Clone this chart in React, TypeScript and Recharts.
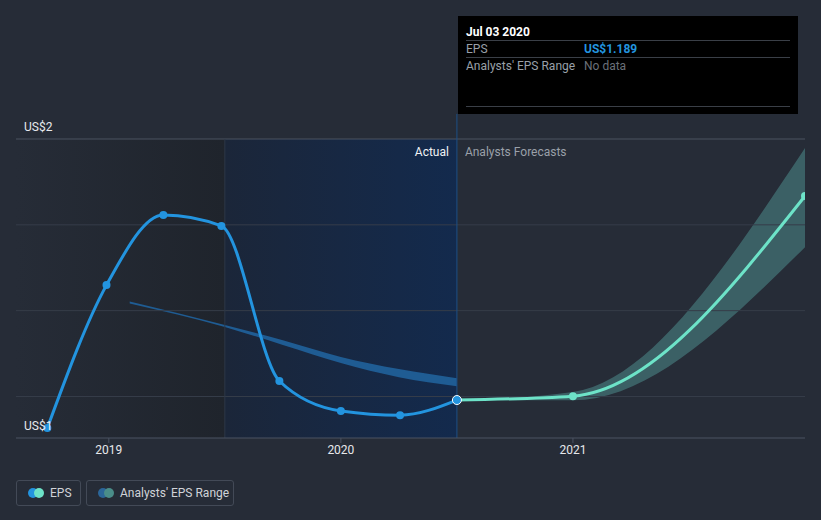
import React from "react";
import {
  ComposedChart,
  Line,
  Area,
  XAxis,
  YAxis,
  ReferenceArea,
  ReferenceLine,
} from "recharts";

// dates are decimal years
const actualDates = [2018.735, 2018.99, 2019.235, 2019.485, 2019.735, 2020.0, 2020.255, 2020.5];
const actualEps = [1.102, 1.546, 1.764, 1.73, 1.248, 1.155, 1.142, 1.189];

const forecastDates = [2020.5, 2021.0, 2022.0];
const forecastEps = [1.189, 1.201, 1.823];
const forecastLow = [1.189, 1.188, 1.664];
const forecastHigh = [1.189, 1.214, 1.972];

const pastRangeDates = [2019.09, 2019.5, 2019.75, 2020.0, 2020.25, 2020.5];
const pastRangeLow = [1.489, 1.416, 1.36, 1.304, 1.26, 1.232];
const pastRangeHigh = [1.495, 1.422, 1.375, 1.323, 1.285, 1.257];

const yearTicks = [2019, 2020, 2021];
const yMin = 1.071;
const yMax = 2.0;
const gridTicks = [yMin, 1.2, 1.4667, 1.7333, yMax];

type Row = {
  t: number;
  eps?: number;
  forecast?: number;
  range?: [number, number];
  pastRange?: [number, number];
};

const rows = new Map<number, Row>();
const row = (t: number) => {
  if (!rows.has(t)) rows.set(t, { t });
  return rows.get(t)!;
};
actualDates.forEach((t, i) => (row(t).eps = actualEps[i]));
forecastDates.forEach((t, i) => {
  row(t).forecast = forecastEps[i];
  row(t).range = [forecastLow[i], forecastHigh[i]];
});
pastRangeDates.forEach((t, i) => (row(t).pastRange = [pastRangeLow[i], pastRangeHigh[i]]));
const data = Array.from(rows.values()).sort((a, b) => a.t - b.t);

const BG = "#262c37";
const FONT = "Roboto, 'Noto Sans', sans-serif";

const YTick = ({ y, payload }: any) => {
  let label = "";
  if (payload.value === yMax) label = "US$2";
  if (payload.value === yMin) label = "US$1";
  if (!label) return null;
  return (
    <text x={24} y={y - 8} fill="#e8eaed" fontSize={12} fontFamily={FONT} textAnchor="start">
      {label}
    </text>
  );
};

const EpsDot = (props: any) => {
  const { cx, cy, index } = props;
  if (cx == null || cy == null || props.payload.eps == null) return null;
  const last = props.payload.t === actualDates[actualDates.length - 1];
  return (
    <circle
      key={index}
      cx={cx}
      cy={cy}
      r={last ? 4.5 : 4}
      fill="#2394df"
      stroke={last ? "#ffffff" : "none"}
      strokeWidth={last ? 1 : 0}
    />
  );
};

const ForecastDot = (props: any) => {
  const { cx, cy, index, payload } = props;
  if (cx == null || cy == null || payload.forecast == null || payload.t === 2020.5) return null;
  return <circle key={index} cx={cx} cy={cy} r={4} fill="#6de3c8" />;
};

const legendBox: React.CSSProperties = {
  position: "absolute",
  top: 480,
  height: 26,
  boxSizing: "border-box",
  border: "1px solid #434a57",
  borderRadius: 3,
  fontFamily: FONT,
  fontSize: 12,
  color: "#d0d3d8",
};

const dot = (left: number, color: string): React.CSSProperties => ({
  position: "absolute",
  left,
  top: 7,
  width: 10,
  height: 10,
  borderRadius: 5,
  background: color,
});

export default function App() {
  return (
    <div style={{ position: "relative", width: 821, height: 520, background: BG, overflow: "hidden" }}>
      <style>{`body{margin:0}`}</style>
      <ComposedChart
        width={821}
        height={520}
        data={data}
        margin={{ top: 139, right: 16, bottom: 52, left: 16 }}
      >
        <defs>
          <linearGradient id="pastShade" x1="0" y1="0" x2="1" y2="0">
            <stop offset="0%" stopColor="#262c37" />
            <stop offset="100%" stopColor="#1f242c" />
          </linearGradient>
          <linearGradient id="actualShade" x1="0" y1="0" x2="1" y2="0">
            <stop offset="0%" stopColor="#1b2639" />
            <stop offset="100%" stopColor="#132a4d" />
          </linearGradient>
        </defs>
        <ReferenceArea x1={2018.6} x2={2019.5} fill="url(#pastShade)" fillOpacity={1} stroke="none" />
        <ReferenceArea
          x1={2019.5}
          x2={2020.5}
          fill="url(#actualShade)"
          fillOpacity={1}
          stroke="none"
          label={{ value: "Actual", position: "insideTopRight", offset: 8, fill: "#f0f2f5", fontSize: 12, fontFamily: FONT }}
        />
        <ReferenceArea
          x1={2020.5}
          x2={2022}
          fill="none"
          stroke="none"
          label={{ value: "Analysts Forecasts", position: "insideTopLeft", offset: 8, fill: "#9aa0a9", fontSize: 12, fontFamily: FONT }}
        />
        {gridTicks.slice(1, -1).map((v) => (
          <ReferenceLine key={v} y={v} stroke="#363d49" />
        ))}
        <ReferenceLine y={yMax} stroke="#4a5261" />
        <ReferenceLine x={2019.5} stroke="#2d3747" />
        <ReferenceLine
          ifOverflow="visible"
          segment={[
            { x: 2020.5, y: yMin },
            { x: 2020.5, y: 2.078 },
          ]}
          stroke="#1d4f86"
        />
        <XAxis
          dataKey="t"
          type="number"
          domain={[2018.6, 2022]}
          allowDataOverflow
          ticks={yearTicks}
          height={30}
          axisLine={{ stroke: "#4b5362" }}
          tickLine={{ stroke: "#4b5362" }}
          tickSize={5}
          tick={{ fill: "#e6e8eb", fontSize: 12, fontFamily: FONT }}
        />
        <YAxis
          type="number"
          domain={[yMin, yMax]}
          allowDataOverflow
          ticks={gridTicks}
          mirror
          axisLine={false}
          tickLine={false}
          tick={<YTick />}
        />
        <Area
          dataKey="pastRange"
          type="monotone"
          fill="#1f5c93"
          fillOpacity={1}
          stroke="none"
          connectNulls
          isAnimationActive={false}
        />
        <Area
          dataKey="range"
          type="monotone"
          fill="#65c3bd"
          fillOpacity={0.35}
          stroke="none"
          connectNulls
          isAnimationActive={false}
        />
        <Line
          dataKey="forecast"
          type="monotone"
          stroke="#6de3c8"
          strokeWidth={3}
          dot={<ForecastDot />}
          activeDot={false}
          connectNulls
          isAnimationActive={false}
        />
        <Line
          dataKey="eps"
          type="monotone"
          stroke="#2394df"
          strokeWidth={3}
          dot={<EpsDot />}
          activeDot={false}
          connectNulls
          isAnimationActive={false}
        />
      </ComposedChart>

      <div
        style={{
          position: "absolute",
          left: 458,
          top: 16,
          width: 340,
          height: 98,
          background: "#000",
          fontFamily: FONT,
          fontSize: 12,
        }}
      >
        <div style={{ position: "absolute", left: 8, top: 9, color: "#fff", fontWeight: 700 }}>Jul 03 2020</div>
        <div style={{ position: "absolute", left: 8, right: 8, top: 24, borderTop: "1px solid #3a3f47" }} />
        <div style={{ position: "absolute", left: 8, top: 26, color: "#9aa0a9" }}>EPS</div>
        <div style={{ position: "absolute", left: 126, top: 26, color: "#2394df", fontWeight: 700 }}>US$1.189</div>
        <div style={{ position: "absolute", left: 8, right: 8, top: 41, borderTop: "1px solid #3a3f47" }} />
        <div style={{ position: "absolute", left: 8, top: 43, color: "#9aa0a9" }}>Analysts' EPS Range</div>
        <div style={{ position: "absolute", left: 126, top: 43, color: "#6b7079" }}>No data</div>
        <div style={{ position: "absolute", left: 8, right: 8, top: 90, borderTop: "1px solid #3a3f47" }} />
      </div>

      <div style={{ ...legendBox, left: 16, width: 65 }}>
        <span style={dot(11, "#2394df")} />
        <span style={dot(16.5, "#6de3c8")} />
        <span style={{ position: "absolute", left: 33, top: 5 }}>EPS</span>
      </div>
      <div style={{ ...legendBox, left: 86, width: 148 }}>
        <span style={dot(11, "#2b6699")} />
        <span style={dot(16.5, "#4a8d89")} />
        <span style={{ position: "absolute", left: 33, top: 5 }}>Analysts' EPS Range</span>
      </div>
    </div>
  );
}
